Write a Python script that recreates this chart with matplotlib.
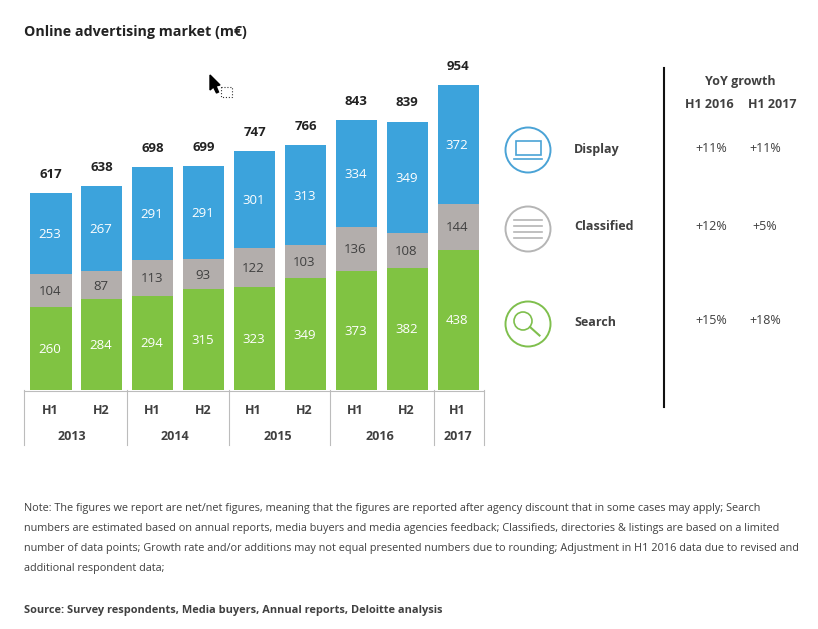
import matplotlib
matplotlib.use('Agg')
import matplotlib.pyplot as plt
from matplotlib.patches import Circle, Rectangle, Polygon

plt.rcParams['font.family'] = ['Open Sans', 'DejaVu Sans']

# data
halves = ['H1', 'H2', 'H1', 'H2', 'H1', 'H2', 'H1', 'H2', 'H1']
years = ['2013', '2014', '2015', '2016', '2017']
search = [260, 284, 294, 315, 323, 349, 373, 382, 438]
classified = [104, 87, 113, 93, 122, 103, 136, 108, 144]
display = [253, 267, 291, 291, 301, 313, 334, 349, 372]
totals = [617, 638, 698, 699, 747, 766, 843, 839, 954]
segments = ['Display', 'Classified', 'Search']
growth_2016 = ['+11%', '+12%', '+15%']
growth_2017 = ['+11%', '+5%', '+18%']

BLUE = '#3ca3dc'
GRAY = '#b3aeac'
GREEN = '#80c342'
DARK = '#222222'
TXT = '#404040'
W, H = 818, 629

fig = plt.figure(figsize=(W / 100, H / 100), dpi=100)

# bars
ax = fig.add_axes([24 / W, 1 - 390 / H, 461 / W, 340 / H])
x = list(range(len(totals)))
bottom2 = [s + c for s, c in zip(search, classified)]
ax.bar(x, search, width=0.81, color=GREEN)
ax.bar(x, classified, width=0.81, bottom=search, color=GRAY)
ax.bar(x, display, width=0.81, bottom=bottom2, color=BLUE)
ax.set_xlim(-0.53, 8.527)
ax.set_ylim(0, 340 / 0.32)
ax.axis('off')

for i in x:
    ax.text(i - 0.02, search[i] / 2 - 3, str(search[i]), color='white', fontsize=9.5, ha='center', va='center')
    ax.text(i - 0.02, search[i] + classified[i] / 2 - 3, str(classified[i]), color=TXT, fontsize=9.5, ha='center', va='center')
    ax.text(i - 0.02, bottom2[i] + display[i] / 2 - 3, str(display[i]), color='white', fontsize=9.5, ha='center', va='center')
    ax.text(i, totals[i] + 58, str(totals[i]), color=DARK, fontsize=9.5, fontweight='bold', ha='center', va='center')

# overlay in pixels
ov = fig.add_axes([0, 0, 1, 1], zorder=-1)
ov.set_xlim(0, W)
ov.set_ylim(H, 0)
ov.axis('off')

ov.text(24, 32, 'Online advertising market (m€)', fontsize=10.3, fontweight='bold', color=DARK, va='center')

# category table
LINE = '#bcbcbc'
ov.plot([24, 484], [390.5, 390.5], color=LINE, lw=0.8)
for px in [24, 127, 229, 330, 434, 484]:
    ov.plot([px, px], [390, 445], color=LINE, lw=0.8)
for i, h in enumerate(halves):
    ov.text(50 + 50.9 * i, 410, h, fontsize=9, fontweight='bold', color=TXT, ha='center', va='center')
for px, y in zip([72, 175, 278, 380, 458], years):
    ov.text(px, 436, y, fontsize=9, fontweight='bold', color=TXT, ha='center', va='center')

# legend icons
ICON_BLUE, ICON_GRAY, ICON_GREEN = '#4aa3d6', '#b5b5b5', '#7fbf4d'
cx = 528
for cy, col in zip([150, 229, 324], [ICON_BLUE, ICON_GRAY, ICON_GREEN]):
    ov.add_patch(Circle((cx, cy), 22.5, fill=False, ec=col, lw=1.4))
ov.add_patch(Rectangle((516, 140.5), 25, 14.5, fill=False, ec=ICON_BLUE, lw=1.2))
ov.plot([514, 542], [158.5, 158.5], color=ICON_BLUE, lw=1.2)
for ly in [220, 226, 232, 238]:
    ov.plot([514, 542], [ly, ly], color=ICON_GRAY, lw=1.2)
ov.add_patch(Circle((523, 321), 9, fill=False, ec=ICON_GREEN, lw=1.2))
ov.plot([530, 539.5], [327, 335.5], color=ICON_GREEN, lw=1.5)

for y, name in zip([150, 227, 322], segments):
    ov.text(574, y, name, fontsize=9, fontweight='bold', color=TXT, va='center')

# growth table
ov.plot([664, 664], [68, 407], color='#111111', lw=1.5)
ov.text(740, 82, 'YoY growth', fontsize=9, fontweight='bold', color=TXT, ha='center', va='center')
ov.text(709, 104, 'H1 2016', fontsize=9, fontweight='bold', color=TXT, ha='center', va='center')
ov.text(772, 104, 'H1 2017', fontsize=9, fontweight='bold', color=TXT, ha='center', va='center')
for y, a, b in zip([148, 226, 321], growth_2016, growth_2017):
    ov.text(711, y, a, fontsize=9, color=TXT, ha='center', va='center')
    ov.text(765, y, b, fontsize=9, color=TXT, ha='center', va='center')

# note
note = [
    'Note: The figures we report are net/net figures, meaning that the figures are reported after agency discount that in some cases may apply; Search',
    'numbers are estimated based on annual reports, media buyers and media agencies feedback; Classifieds, directories & listings are based on a limited',
    'number of data points; Growth rate and/or additions may not equal presented numbers due to rounding; Adjustment in H1 2016 data due to revised and',
    'additional respondent data;',
]
for y, line in zip([508, 528, 549, 569], note):
    ov.text(24, y, line, fontsize=7.8, color=TXT, va='center')
ov.text(24, 610, 'Source: Survey respondents, Media buyers, Annual reports, Deloitte analysis',
        fontsize=7.9, fontweight='bold', color=TXT, va='center')

# stray mouse cursor from the screenshot
ov.add_patch(Polygon([(210, 75), (210, 90), (213.5, 87), (216.5, 93), (218.5, 92), (216, 86), (220, 85)], color='black'))
ov.add_patch(Rectangle((221, 87), 11, 10, fill=False, ec='#333333', lw=0.8, ls=':'))

fig.savefig('out.png', dpi=100)
